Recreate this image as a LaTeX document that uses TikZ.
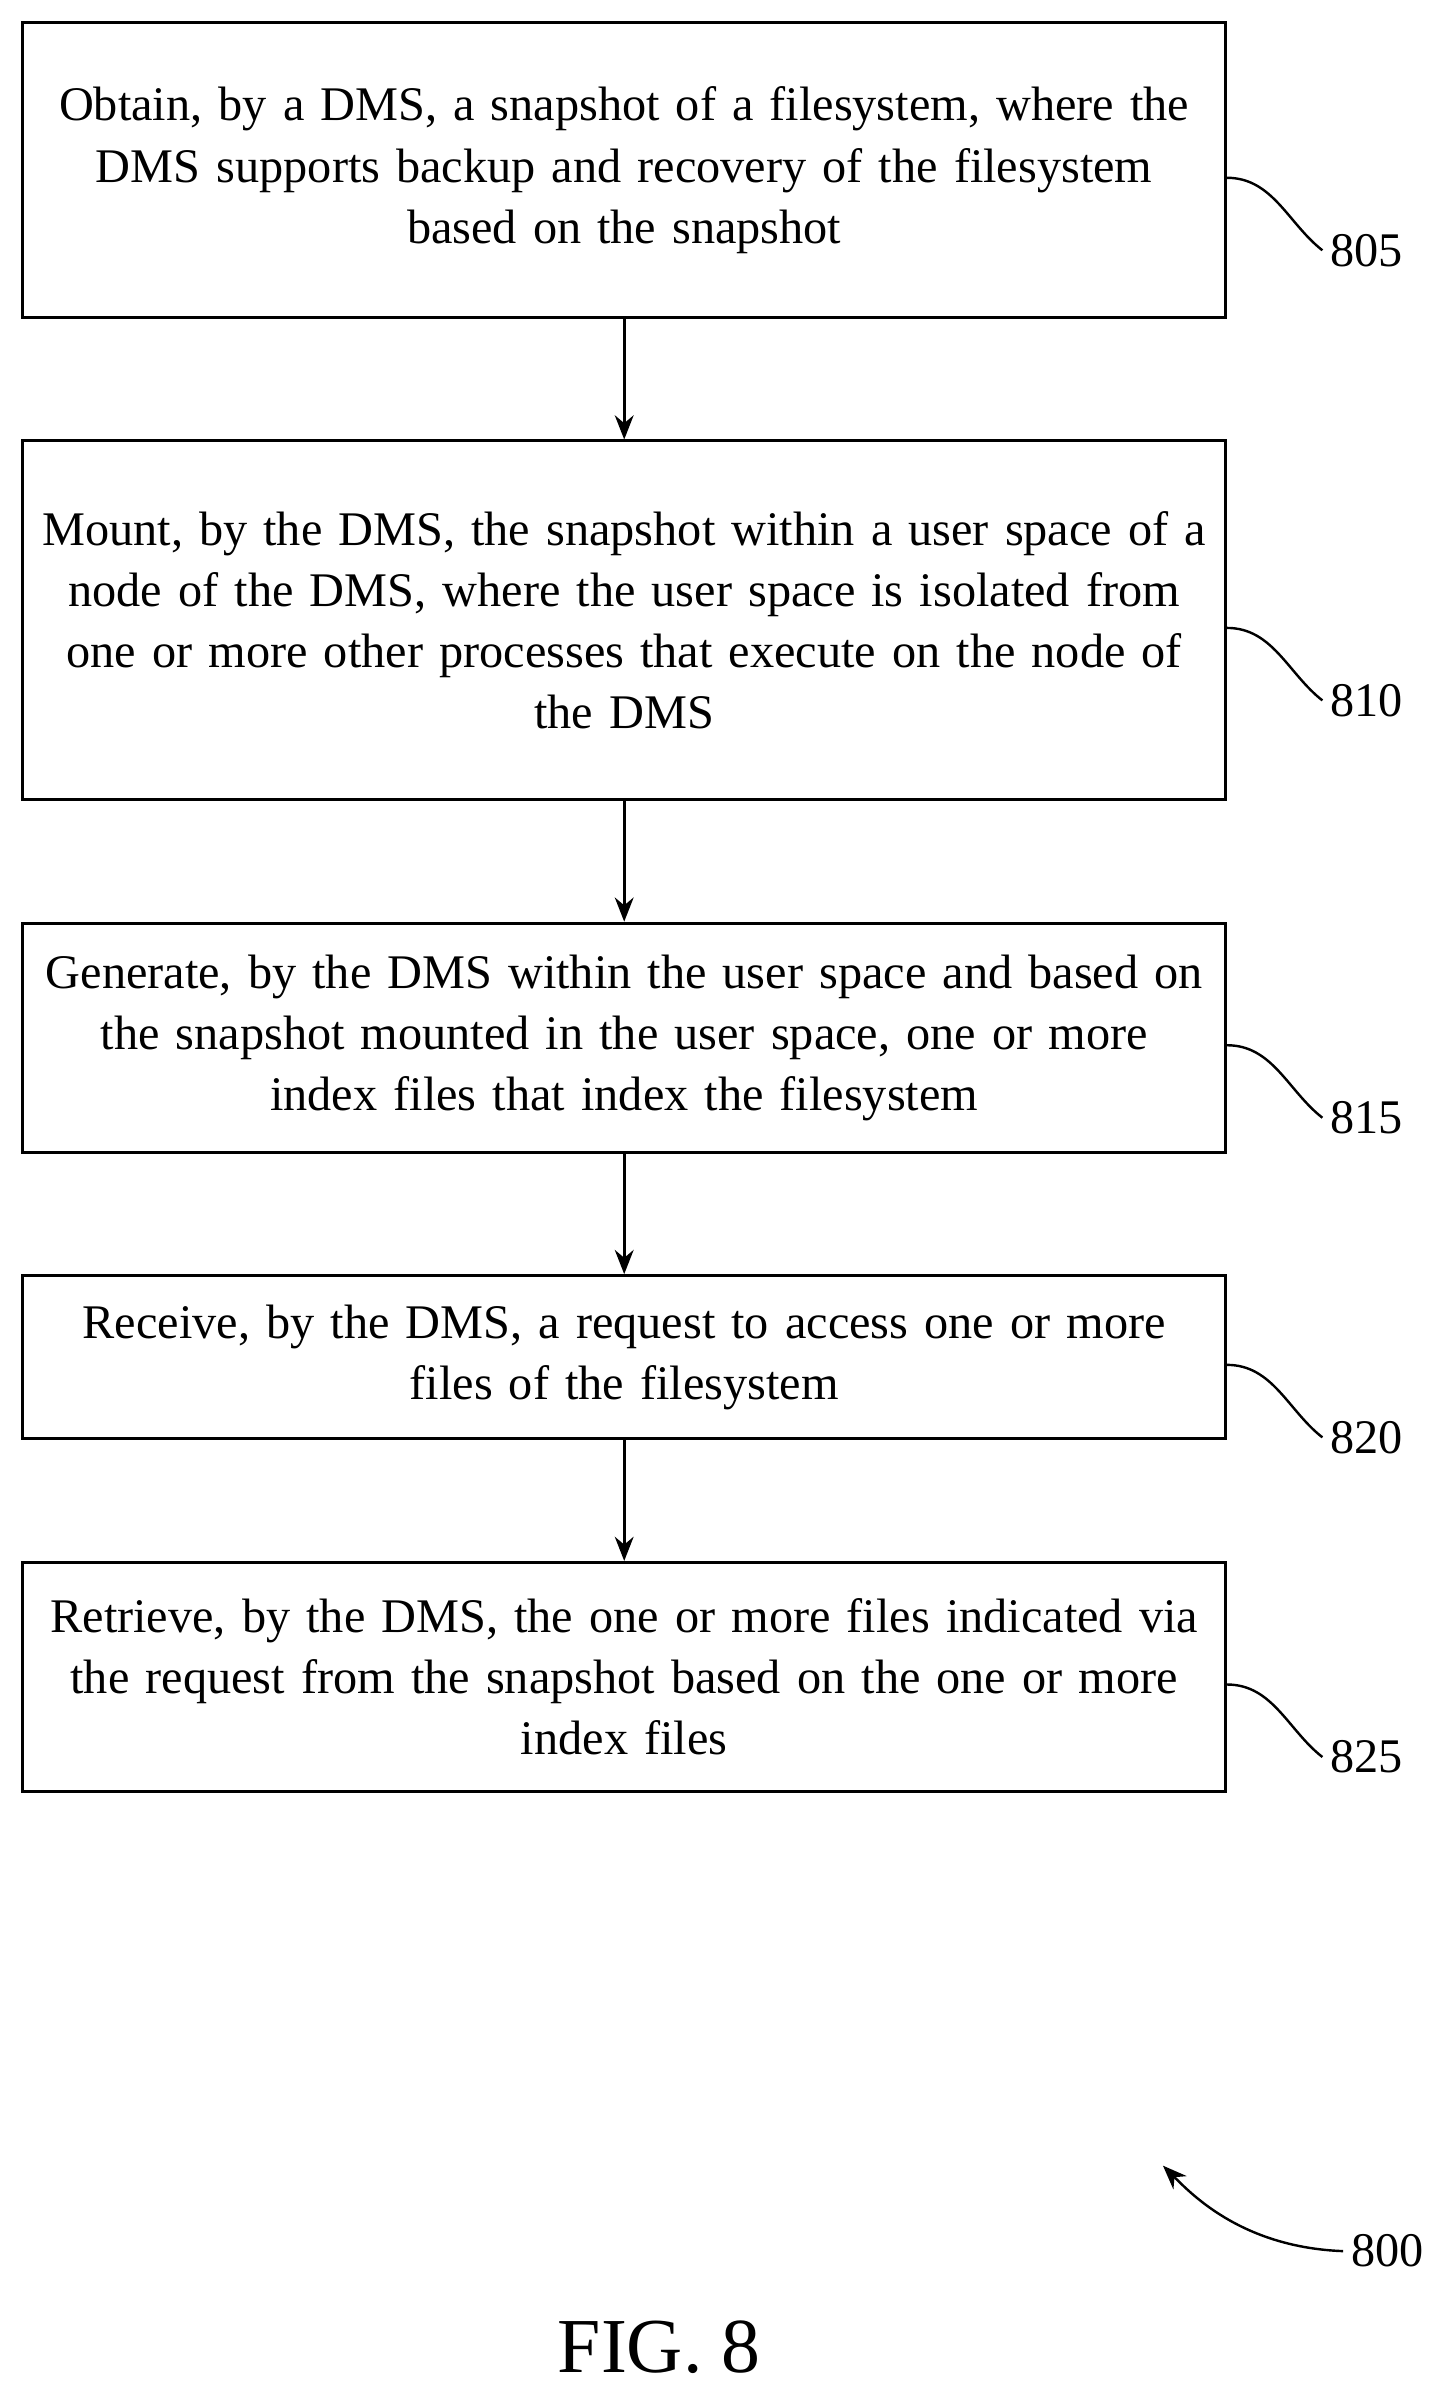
\documentclass[tikz,border=0pt]{standalone}
\usepackage{fontspec}
\setmainfont{Liberation Serif}
\usetikzlibrary{positioning,arrows.meta}
\begin{document}
\begin{tikzpicture}[node distance=1.58cm,
        stepbox/.style={rectangle, draw=black, line width=1.1pt, text width=15.7cm, minimum width=15.76cm, align=center, font=\fontsize{18}{22.8}\selectfont, inner sep=0pt},
        flow/.style={line width=1.1pt, -{Stealth[length=9pt,width=7pt]}},
        tag/.style={anchor=west, font=\fontsize{18}{22}\selectfont, inner sep=0pt},
        lead/.style={line width=0.9pt}]
        \useasboundingbox (0,0) rectangle (18.94,-31.32);

        % Steps
        \node[stepbox, minimum height=3.86cm] (obtain) at (8.18,-2.23) {Obtain, by a DMS, a snapshot of a filesystem, where the\\DMS supports backup and recovery of the filesystem\\based on the snapshot};
        \node[stepbox, minimum height=4.7cm, below=of obtain] (mount) {Mount, by the DMS, the snapshot within a user space of a\\node of the DMS, where the user space is isolated from\\one or more other processes that execute on the node of\\the DMS};
        \node[stepbox, minimum height=3cm, below=of mount] (generate) {Generate, by the DMS within the user space and based on\\the snapshot mounted in the user space, one or more\\index files that index the filesystem};
        \node[stepbox, minimum height=2.14cm, below=of generate] (receive) {Receive, by the DMS, a request to access one or more\\files of the filesystem};
        \node[stepbox, minimum height=3cm, below=of receive] (retrieve) {Retrieve, by the DMS, the one or more files indicated via\\the request from the snapshot based on the one or more\\index files};

        % Arrows
        \draw[flow] (obtain) -- (mount);
        \draw[flow] (mount) -- (generate);
        \draw[flow] (generate) -- (receive);
        \draw[flow] (receive) -- (retrieve);

        % Reference numerals
        \foreach \s/\n in {obtain/805, mount/810, generate/815, receive/820, retrieve/825} {
            \node[tag] (tag\n) at ([xshift=1.35cm, yshift=-1.05cm]\s.east) {\n};
            \draw[lead] ([yshift=-0.1cm]\s.east) .. controls +(0.6,0) and +(-0.45,0.35) .. ([xshift=-0.1cm]tag\n.west);
        }

        % Figure numeral
        \coordinate (tip800) at (15.24,-28.38);
        \node[tag] (tag800) at (17.7,-29.5) {800};
        \draw[lead, -{Stealth[length=9pt,width=7pt]}] ([xshift=-0.1cm]tag800.west) .. controls +(-1.3,0.05) and +(0.4,-0.4) .. (tip800);

        \node[font=\fontsize{29}{33}\selectfont] (fig) at (8.64,-30.76) {FIG. 8};
    \end{tikzpicture}
\end{document}
